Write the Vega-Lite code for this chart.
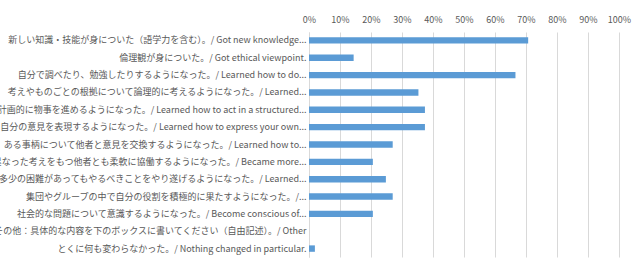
{
  "$schema": "https://vega.github.io/schema/vega-lite/v6.json",
  "width": 310,
  "height": 225,
  "autosize": {"type": "none"},
  "padding": {"left": 309, "top": 32, "right": 14, "bottom": 9},
  "background": "white",
  "config": {
    "view": {"stroke": null},
    "font": "Noto Sans CJK JP"
  },
  "data": {
    "values": [
      {"item": "新しい知識・技能が身についた（語学力を含む）。/ Got new knowledge...", "pct": 0.707},
      {"item": "倫理観が身についた。/ Got ethical viewpoint.", "pct": 0.144},
      {"item": "自分で調べたり、勉強したりするようになった。/ Learned how to do...", "pct": 0.666},
      {"item": "考えやものごとの根拠について論理的に考えるようになった。/ Learned...", "pct": 0.353},
      {"item": "計画的に物事を進めるようになった。/ Learned how to act in a structured...", "pct": 0.374},
      {"item": "自分の意見を表現するようになった。/ Learned how to express your own...", "pct": 0.374},
      {"item": "ある事柄について他者と意見を交換するようになった。/ Learned how to...", "pct": 0.27},
      {"item": "異なった考えをもつ他者とも柔軟に協働するようになった。/ Became more...", "pct": 0.206},
      {"item": "多少の困難があってもやるべきことをやり遂げるようになった。/ Learned...", "pct": 0.248},
      {"item": "集団やグループの中で自分の役割を積極的に果たすようになった。/...", "pct": 0.27},
      {"item": "社会的な問題について意識するようになった。/ Become conscious of...", "pct": 0.206},
      {"item": "その他：具体的な内容を下のボックスに書いてください（自由記述）。/ Other", "pct": 0},
      {"item": "とくに何も変わらなかった。/ Nothing changed in particular.", "pct": 0.019}
    ]
  },
  "mark": {"type": "bar", "color": "#5b9bd5"},
  "encoding": {
    "y": {
      "field": "item",
      "type": "nominal",
      "sort": null,
      "scale": {"paddingInner": 0.63, "paddingOuter": 0.3},
      "axis": {
        "title": null,
        "ticks": false,
        "domain": true,
        "domainColor": "#d9d9d9",
        "labelFontSize": 9,
        "labelColor": "#595959",
        "labelLimit": 0,
        "labelPadding": 3
      }
    },
    "x": {
      "field": "pct",
      "type": "quantitative",
      "scale": {"domain": [0, 1]},
      "axis": {
        "orient": "top",
        "title": null,
        "format": "%",
        "values": [0, 0.1, 0.2, 0.3, 0.4, 0.5, 0.6, 0.7, 0.8, 0.9, 1],
        "ticks": false,
        "domain": false,
        "grid": true,
        "gridColor": "#d9d9d9",
        "labelColor": "#595959",
        "labelFontSize": 9,
        "labelPadding": 8,
        "labelFlush": false
      }
    }
  }
}
